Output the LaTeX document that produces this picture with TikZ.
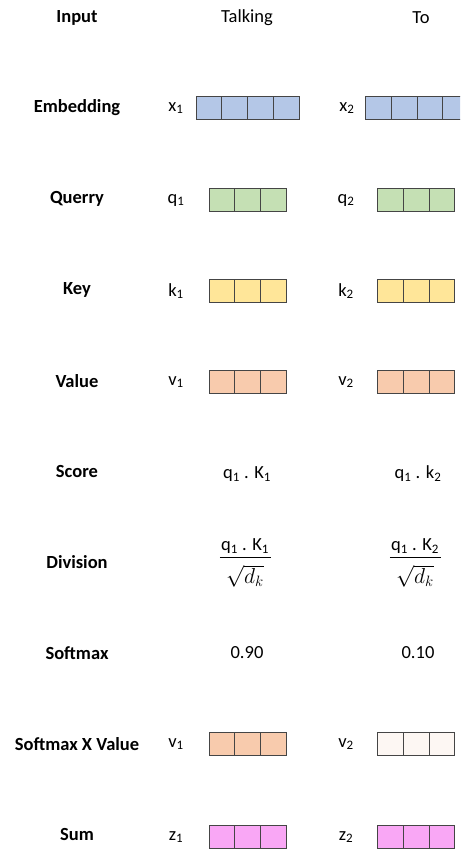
\documentclass[tikz,border=0pt]{standalone}
\usepackage{amsmath}
\usepackage{graphicx}
\usepackage{fontspec}
\setmainfont{Carlito}
\usepackage{xcolor}
\usetikzlibrary{positioning}

\definecolor{embblue}{HTML}{B4C7E7}
\definecolor{qgreen}{HTML}{C5E0B4}
\definecolor{kyellow}{HTML}{FFE699}
\definecolor{vorange}{HTML}{F8CBAD}
\definecolor{vfaint}{HTML}{FDF7F3}
\definecolor{zpink}{HTML}{F9A7F5}
\definecolor{cellline}{HTML}{454545}

% one vector: name, left edge, centre y, number of cells, fill
\newcommand{\vecrow}[5]{%
  \foreach \i in {1,...,#4}
    \node[cell, fill=#5] (#1-\i) at ({#2+(\i-0.5)*25.75}, #3) {};%
}

\begin{document}
\begin{tikzpicture}[x=1pt, y=-1pt,
    every node/.style={font=\fontsize{18.5}{22}\selectfont, inner sep=0pt},
    head/.style={font=\fontsize{18.5}{22}\selectfont\bfseries},
    cell/.style={draw=cellline, line width=0.8pt, minimum width=25.75pt,
                 minimum height=23.5pt}]
  \useasboundingbox (0,0) rectangle (460,850);
  \clip (0,0) rectangle (460,850);
  % --- Row headings ---
  \node[head] (hInput) at (77,18)  {Input};
  \node[head] (hEmb)   at (77,108) {Embedding};
  \node[head] (hQry)   at (77,199) {Querry};
  \node[head] (hKey)   at (77,290) {Key};
  \node[head] (hVal)   at (77,381) {Value};
  \node[head] (hScore) at (77,471) {Score};
  \node[head] (hDiv)   at (77,562) {Division};
  \node[head] (hSoft)  at (77,653) {Softmax};
  \node[head] (hSxV)   at (77,744) {Softmax X Value};
  \node[head] (hSum)   at (77,834) {Sum};
  % --- Input words ---
  \node (w1) at (247,18) {Talking};
  \node (w2) at (421,18) {To};
  % --- Embeddings ---
  \node (x1) at (176,108) {x\textsubscript{1}};
  \vecrow{xa}{196}{108}{4}{embblue}
  \node (x2) at (347,108) {x\textsubscript{2}};
  \vecrow{xb}{365.5}{108}{4}{embblue}
  % --- Queries ---
  \node (q1) at (176,200) {q\textsubscript{1}};
  \vecrow{qa}{209}{200}{3}{qgreen}
  \node (q2) at (346,200) {q\textsubscript{2}};
  \vecrow{qb}{377.5}{200}{3}{qgreen}
  % --- Keys ---
  \node (k1) at (176,291) {k\textsubscript{1}};
  \vecrow{ka}{209}{291}{3}{kyellow}
  \node (k2) at (346,291) {k\textsubscript{2}};
  \vecrow{kb}{377.5}{291}{3}{kyellow}
  % --- Values ---
  \node (v1) at (176,382) {v\textsubscript{1}};
  \vecrow{va}{209}{382}{3}{vorange}
  \node (v2) at (346,382) {v\textsubscript{2}};
  \vecrow{vb}{377.5}{382}{3}{vorange}
  % --- Scores ---
  \node (s1) at (247,474) {q\textsubscript{1} . K\textsubscript{1}};
  \node (s2) at (418,474) {q\textsubscript{1} . k\textsubscript{2}};
  % --- Scaled scores (numerator, bar, root) ---
  \node (n1) at (245,546) {q\textsubscript{1} . K\textsubscript{1}};
  \node (r1) at (245,576) {\scalebox{1.25}{$\sqrt{d_k}$}};
  \draw[line width=0.7pt] ([xshift=-1pt,yshift=-3.5pt]n1.south west)
    -- ([xshift=2pt,yshift=-3.5pt]n1.south east);
  \node (n2) at (415,546) {q\textsubscript{1} . K\textsubscript{2}};
  \node (r2) at (415,576) {\scalebox{1.25}{$\sqrt{d_k}$}};
  \draw[line width=0.7pt] ([xshift=-1pt,yshift=-3.5pt]n2.south west)
    -- ([xshift=2pt,yshift=-3.5pt]n2.south east);
  % --- Softmax ---
  \node (p1) at (247,653) {0.90};
  \node (p2) at (418,653) {0.10};
  % --- Weighted values ---
  \node (wv1) at (176,744) {v\textsubscript{1}};
  \vecrow{wa}{209}{744}{3}{vorange}
  \node (wv2) at (346,744) {v\textsubscript{2}};
  \vecrow{wb}{377.5}{744}{3}{vfaint}
  % --- Sum ---
  \node (z1) at (176,837) {z\textsubscript{1}};
  \vecrow{za}{209}{837}{3}{zpink}
  \node (z2) at (346,837) {z\textsubscript{2}};
  \vecrow{zb}{377.5}{837}{3}{zpink}
\end{tikzpicture}
\end{document}
